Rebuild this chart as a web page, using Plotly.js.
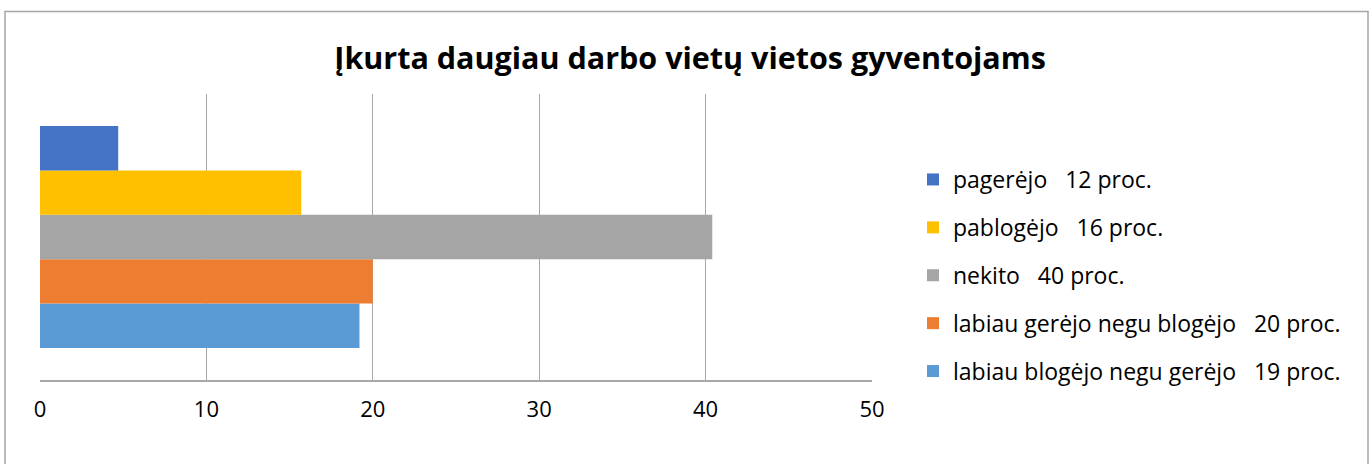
<!DOCTYPE html>
<html>
<head>
<meta charset="utf-8">
<script src="https://cdn.plot.ly/plotly-3.0.1.min.js"></script>
<style>
html,body{margin:0;padding:0;background:#fff;}
#chart{width:1372px;height:464px;}
</style>
</head>
<body>
<div id="chart"></div>
<script>
const category = ['Įkurta daugiau darbo vietų vietos gyventojams'];
const seriesNames = [
  'labiau blogėjo negu gerėjo   19 proc.',
  'labiau gerėjo negu blogėjo   20 proc.',
  'nekito   40 proc.',
  'pablogėjo   16 proc.',
  'pagerėjo   12 proc.'
];
const seriesValues = [19.2, 20.0, 40.4, 15.7, 4.7];
const seriesColors = ['#5B9BD5', '#ED7D31', '#A5A5A5', '#FFC000', '#4472C4'];
const xTickVals = [0, 10, 20, 30, 40, 50];

const traces = seriesNames.map((n, i) => ({
  type: 'bar',
  orientation: 'h',
  name: n,
  y: category,
  x: [seriesValues[i]],
  marker: {color: seriesColors[i], line: {width: 0}},
  legendgroup: 'g' + i,
  legendrank: 1000 + (seriesNames.length - i),
  hoverinfo: 'x+name'
}));

const W = 1372, H = 464, L = 40, R = 500, T = 94, B = 84;
const pw = W - L - R, ph = H - T - B;
const px = v => (v - L) / pw;
const py = v => (H - B - v) / ph;

const layout = {
  width: W, height: H,
  margin: {l: L, r: R, t: T, b: B, pad: 0},
  paper_bgcolor: '#fff', plot_bgcolor: '#fff',
  font: {family: 'Open Sans, sans-serif', color: '#000'},
  title: {
    text: '<b>' + category[0] + '</b>',
    font: {size: 30.5, family: 'Open Sans, sans-serif', color: '#000'},
    x: 0.503, xref: 'container', xanchor: 'center',
    y: 1 - 58 / H, yref: 'container', yanchor: 'middle'
  },
  barmode: 'group',
  bargap: 0.224,
  bargroupgap: 0,
  xaxis: {
    range: [0, 50],
    tickvals: xTickVals,
    ticktext: xTickVals.map(String),
    showgrid: true, gridcolor: '#a8a8a8', gridwidth: 1.3,
    zeroline: false,
    showline: true, linecolor: '#a8a8a8', linewidth: 1.5,
    ticks: '', ticklabelstandoff: 9,
    tickfont: {size: 22, family: 'Open Sans, sans-serif', color: '#000'},
    fixedrange: true
  },
  yaxis: {
    type: 'category',
    showticklabels: false, ticks: '',
    showgrid: false, zeroline: false, showline: false,
    range: [-0.5, 0.5],
    fixedrange: true
  },
  showlegend: true,
  legend: {
    x: px(913), xanchor: 'left',
    y: py(158), yanchor: 'top',
    traceorder: 'grouped',
    tracegroupgap: 15,
    font: {size: 23, family: 'Open Sans, sans-serif', color: '#000'},
    bgcolor: 'rgba(0,0,0,0)', itemwidth: 30
  },
  shapes: [{
    type: 'rect', xref: 'paper', yref: 'paper',
    x0: px(5), x1: px(1368), y0: py(475), y1: py(11.5),
    line: {color: '#a6a6a6', width: 1.5}, fillcolor: 'rgba(0,0,0,0)', layer: 'below'
  }]
};

Plotly.newPlot('chart', traces, layout, {displayModeBar: false, staticPlot: true});
</script>
</body>
</html>
